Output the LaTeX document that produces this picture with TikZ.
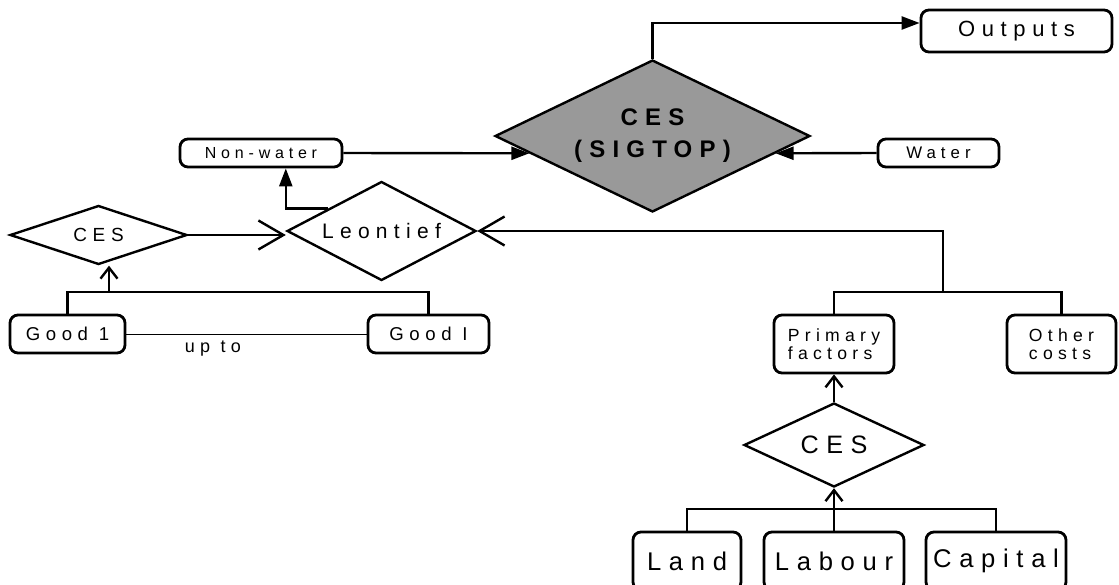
\documentclass[tikz,border=0pt]{standalone}
\usepackage{fontspec}
\usetikzlibrary{shapes.geometric,arrows.meta}

\newfontfamily\sparial[LetterSpace=30]{Liberation Sans}
\definecolor{sigfill}{RGB}{153,153,153}

\tikzset{
    txt/.style={font=\sparial\fontsize{#1}{#1}\selectfont},
    box/.style={draw, rounded corners=4pt, line width=1.4pt, inner sep=0pt},
    choice/.style={draw, diamond, line width=1.2pt, inner sep=0pt},
    link/.style={line width=1.2pt},
    solid tip/.style={-{Triangle[length=9pt,width=6.5pt]}},
    open tip/.style={-{Straight Barb[length=5.5pt,width=8.5pt]}},
    wide tip/.style={-{Straight Barb[length=12.5pt,width=14.5pt]}}
}

\begin{document}
\begin{tikzpicture}[x=0.5pt,y=-0.5pt]
    \useasboundingbox (0,0) rectangle (1119,584);

    % nests
    \node[choice, fill=sigfill, minimum width=157.5pt, minimum height=76pt, shape aspect=2, align=center,
          font=\sparial\bfseries\fontsize{12}{16}\selectfont] (sigtop) at (652.5,136) {CES\\(SIGTOP)};
    \node[choice, minimum width=94.5pt, minimum height=49.5pt, shape aspect=2, txt=10.5] (leon) at (381.5,231) {Leontief};
    \node[choice, minimum width=88.5pt, minimum height=29.5pt, shape aspect=3, txt=9.5] (cesL) at (98.5,235) {CES};
    \node[choice, minimum width=90pt, minimum height=42pt, shape aspect=2, txt=12.6] (cesR) at (834,445) {CES};

    % boxes
    \node[box, minimum width=95.5pt, minimum height=21pt, txt=11] (outputs) at (1016.5,31) {Outputs};
    \node[box, minimum width=60.5pt, minimum height=14pt, txt=8.4] (water) at (938.5,153) {Water};
    \node[box, minimum width=81pt, minimum height=14pt, txt=8] (nonwater) at (261,153) {Non-water};
    \node[box, minimum width=57.5pt, minimum height=19pt, txt=9.3] (good1) at (67.5,334) {Good 1};
    \node[box, minimum width=60.5pt, minimum height=19pt, txt=9.3] (goodI) at (428.5,334) {Good I};
    \node[box, minimum width=60pt, minimum height=29pt, align=left,
          font=\sparial\fontsize{8.8}{9}\selectfont] (prim) at (834,344) {Primary\\factors};
    \node[box, minimum width=54.5pt, minimum height=29pt, align=left,
          font=\sparial\fontsize{8.8}{9}\selectfont] (other) at (1061.5,344) {Other\\costs};
    \node[box, minimum width=54pt, minimum height=29pt, txt=12.8] (land) at (687,561) {Land};
    \node[box, minimum width=70pt, minimum height=29pt, txt=12.8] (labour) at (834,561) {Labour};
    \node[box, minimum width=70pt, minimum height=29pt, txt=12.8] (capital) at (996,561) {Capital};

    % joints of the brackets
    \coordinate (costjoin) at (943,292);
    \coordinate (factjoin) at (834,509);
    \coordinate (goodjoin) at (109,292);

    % top nest
    \draw[link, solid tip] (sigtop.north) |- ([yshift=4pt]outputs.west);
    \draw[link, solid tip] (water.west) -- (sigtop.-8);
    \draw[link, solid tip] (nonwater.east) -- (sigtop.188);

    % Leontief nest
    \draw[link, solid tip] (leon.157) -| (leon.west |- nonwater.south);
    \draw[link, wide tip] (cesL.east) -- (cesL.east -| leon.west);
    \draw[link, wide tip] (costjoin) |- (leon.east);

    % primary factors and other costs
    \draw[link] (prim.north) |- (costjoin) -| (other.north);
    \draw[link, open tip] (cesR.north) -- (prim.south);

    % land, labour, capital
    \draw[link] (land.north) |- (factjoin) -| (capital.north);
    \draw[link, open tip] (labour.north) -- (cesR.south);

    % goods
    \draw[link] (good1.north) |- (goodjoin) -| (goodI.north);
    \draw[link, open tip] (goodjoin) -- (goodjoin |- cesL.south);
    \draw[line width=0.5pt] (good1.east) -- (goodI.west) node[below, pos=0.36, txt=9] (upto) {up to};
\end{tikzpicture}
\end{document}
